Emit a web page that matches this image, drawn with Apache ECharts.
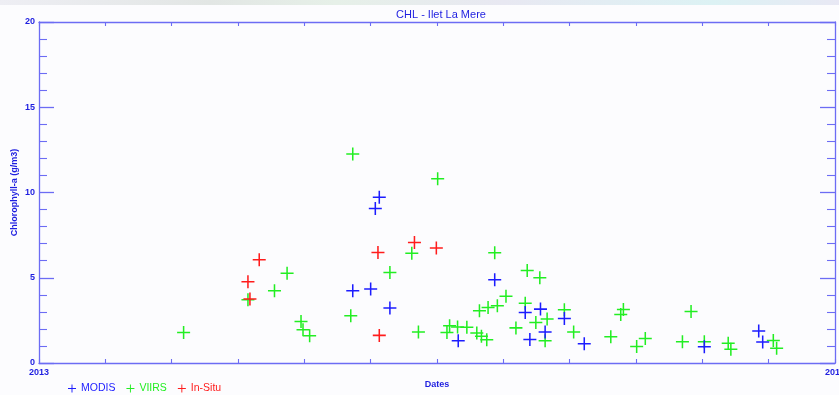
<!DOCTYPE html>
<html>
<head>
<meta charset="utf-8">
<script src="https://cdn.jsdelivr.net/npm/echarts@6/dist/echarts.min.js"></script>
<style>
html,body{margin:0;padding:0;background:#fcfcfe;}
#chart{width:839px;height:395px;}
</style>
</head>
<body>
<div id="chart"></div>
<script>
// x = months elapsed since 1 Jan 2013 (0..12), y = chlorophyll-a (g/m3)
const modisMonths = [4.73, 5.00, 5.07, 5.13, 5.29, 6.32, 6.87, 7.33, 7.40, 7.56, 7.63, 7.92, 8.22, 10.03, 10.85, 10.91];
const modisValues = [4.24, 4.34, 9.06, 9.72, 3.22, 1.31, 4.88, 2.96, 1.38, 3.16, 1.82, 2.61, 1.13, 0.95, 1.88, 1.23];

const viirsMonths = [2.18, 3.15, 3.55, 3.74, 3.95, 3.98, 4.08, 4.70, 4.73, 5.29, 5.62, 5.72, 6.01, 6.15, 6.19, 6.31,
                     6.45, 6.60, 6.64, 6.67, 6.75, 6.77, 6.91, 6.87, 7.04, 7.19, 7.33, 7.36, 7.49, 7.55, 7.66, 7.63,
                     7.92, 8.06, 8.62, 8.77, 8.81, 9.01, 9.14, 9.70, 9.83, 10.03, 10.39, 10.43, 11.07, 11.12];
const viirsValues = [1.79, 3.71, 4.24, 5.27, 2.44, 1.95, 1.60, 2.77, 12.26, 5.31, 6.44, 1.82, 10.81, 1.79, 2.19, 2.11,
                     2.10, 1.76, 3.06, 1.57, 1.36, 3.26, 3.36, 6.46, 3.92, 2.06, 3.50, 5.42, 2.38, 5.00, 2.58, 1.31,
                     3.12, 1.82, 1.54, 2.84, 3.14, 0.97, 1.44, 1.24, 3.02, 1.24, 1.16, 0.81, 1.32, 0.86];

const insituMonths = [3.15, 3.18, 3.32, 5.11, 5.13, 5.66, 5.99];
const insituValues = [4.76, 3.75, 6.05, 6.48, 1.62, 7.07, 6.75];

const seriesNames = ['MODIS', 'VIIRS', 'In-Situ'];
const seriesColors = ['#1c1cff', '#22ee22', '#ff1c1c'];
const yearLabels = {0: '2013', 12: '2014'};

const plus = 'path://M6,0H7.6V6H13.6V7.6H7.6V13.6H6V7.6H0V6H6Z';
const axisBlue = '#6c6cf4';
const textBlue = '#1e1ee0';
const font = 'Liberation Sans';

function pairs(xs, ys){ return xs.map((x,i)=>[x, ys[i]]); }

const chart = echarts.init(document.getElementById('chart'), null, {renderer:'canvas'});

const yAxisBase = {
  type:'value', min:0, max:20, interval:5,
  axisLine:{show:true, onZero:false, lineStyle:{color:axisBlue, width:1.3}},
  axisTick:{show:true, inside:true, length:15, lineStyle:{color:axisBlue, width:1.3}},
  minorTick:{show:true, splitNumber:5, length:8, lineStyle:{color:axisBlue, width:1.1}},
  splitLine:{show:false}
};
const xAxisBase = {
  type:'value', min:0, max:12, interval:1,
  axisLine:{show:true, onZero:false, lineStyle:{color:axisBlue, width:1.3}},
  axisTick:{show:true, inside:true, length:4, lineStyle:{color:axisBlue, width:1.1}},
  splitLine:{show:false}
};

chart.setOption({
  animation:false,
  backgroundColor:'#fcfcfe',
  title:{
    text:'CHL - Ilet La Mere', left:436, top:4, textAlign:'center',
    textStyle:{color:textBlue, fontSize:11, fontWeight:'normal', fontFamily:font}
  },
  graphic:[{
    type:'rect', left:0, top:0, shape:{width:839, height:5}, silent:true,
    style:{fill:new echarts.graphic.LinearGradient(0,0,1,0,[
      {offset:0, color:'#eeeef4'},{offset:0.25, color:'#e2e6e4'},{offset:0.4, color:'#e6f0e8'},
      {offset:0.6, color:'#e8e8f2'},{offset:0.85, color:'#dcf2f4'},{offset:1, color:'#e8e8f4'}])}
  }],
  legend:{
    left:68, top:383, padding:0, itemWidth:8, itemHeight:8, itemGap:11, selectedMode:false,
    icon:plus,
    textStyle:{fontSize:10.5, fontFamily:font},
    data:seriesNames.map((n,i)=>({name:n, textStyle:{color:seriesColors[i]}}))
  },
  grid:{left:39, right:4, top:22, bottom:32, containLabel:false, outerBoundsMode:'none'},
  xAxis:[
    Object.assign({}, xAxisBase, {
      position:'bottom', name:'Dates', nameLocation:'middle', nameGap:17, nameMoveOverlap:false,
      nameTextStyle:{color:textBlue, fontSize:9, fontWeight:'bold', fontFamily:font},
      axisLabel:{show:true, color:textBlue, fontSize:9, fontWeight:'bold', fontFamily:font, margin:5,
        showMinLabel:true, showMaxLabel:true, hideOverlap:false,
        formatter:v=> (yearLabels[v] !== undefined ? yearLabels[v] : '')}
    }),
    Object.assign({}, xAxisBase, {position:'top', axisLabel:{show:false}})
  ],
  yAxis:[
    Object.assign({}, yAxisBase, {
      position:'left', name:'Chlorophyll-a (g/m3)', nameLocation:'middle', nameGap:20, nameRotate:90,
      nameMoveOverlap:false,
      nameTextStyle:{color:textBlue, fontSize:9, fontWeight:'bold', fontFamily:font},
      axisLabel:{show:true, color:textBlue, fontSize:9, fontWeight:'bold', fontFamily:font, margin:4}
    }),
    Object.assign({}, yAxisBase, {position:'right', axisLabel:{show:false}})
  ],
  series:[
    {name:seriesNames[0], type:'scatter', symbol:plus, symbolSize:13, data:pairs(modisMonths, modisValues),
     itemStyle:{color:seriesColors[0], opacity:1}, z:3},
    {name:seriesNames[1], type:'scatter', symbol:plus, symbolSize:13, data:pairs(viirsMonths, viirsValues),
     itemStyle:{color:seriesColors[1], opacity:1}, z:2},
    {name:seriesNames[2], type:'scatter', symbol:plus, symbolSize:13, data:pairs(insituMonths, insituValues),
     itemStyle:{color:seriesColors[2], opacity:1}, z:4}
  ]
});
</script>
</body>
</html>
